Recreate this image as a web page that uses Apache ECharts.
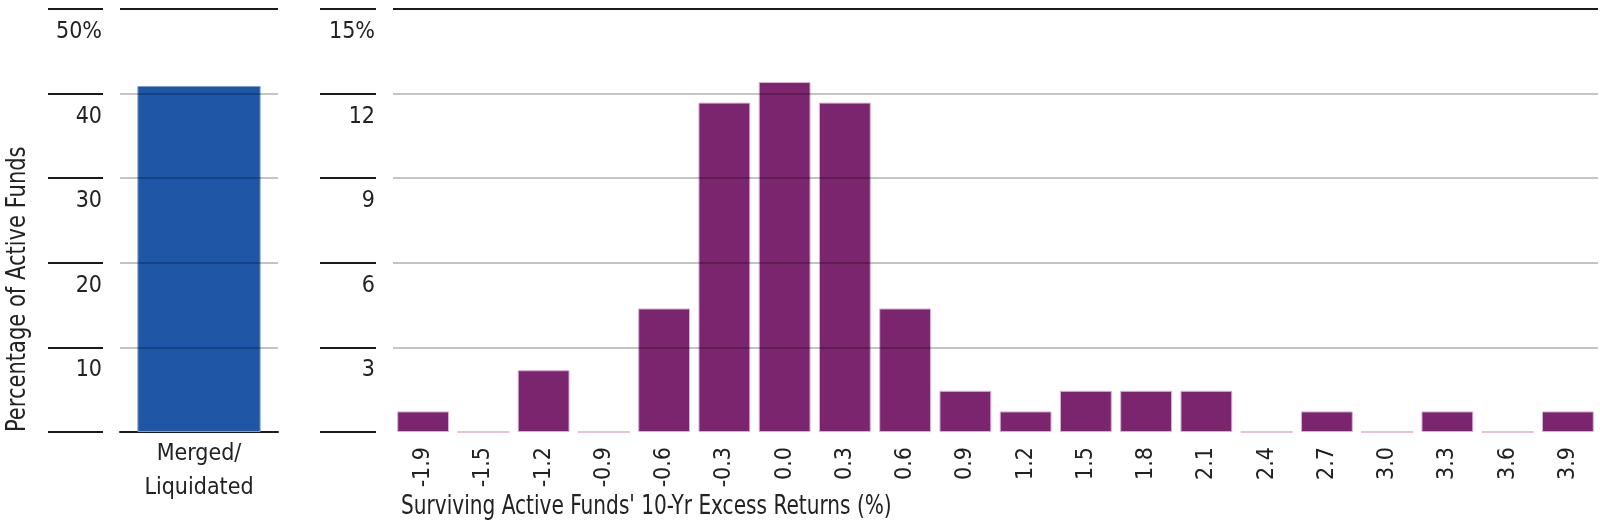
<!DOCTYPE html>
<html>
<head>
<meta charset="utf-8">
<script src="https://cdn.jsdelivr.net/npm/echarts@6/dist/echarts.min.js"></script>
<style>
html,body{margin:0;padding:0;background:#fff;}
#c{width:1600px;height:524px;}
</style>
</head>
<body>
<div id="c"></div>
<script>
var mergedCategories = ['Merged/\nLiquidated'];
var mergedValues = [40.9];
var leftTickLabels = ['', '10', '20', '30', '40', '50%'];

var returnCategories = ['-1.9','-1.5','-1.2','-0.9','-0.6','-0.3','0.0','0.3','0.6','0.9','1.2','1.5','1.8','2.1','2.4','2.7','3.0','3.3','3.6','3.9'];
var survivorValues = [0.73, 0, 2.19, 0, 4.38, 11.68, 12.41, 11.68, 4.38, 1.46, 0.73, 1.46, 1.46, 1.46, 0, 0.73, 0, 0.73, 0, 0.73];
var rightTickLabels = ['', '3', '6', '9', '12', '15%'];

var FONT = '"Liberation Sans Narrow", "DejaVu Sans Condensed", "Noto Sans", sans-serif';
var TXT = '#222';
var FS = 23;

var chart = echarts.init(document.getElementById('c'));

function tickAxis(gridIndex, max, interval, labels) {
  return {
    type: 'value', gridIndex: gridIndex, min: 0, max: max, interval: interval,
    position: 'right',
    axisLine: {show: false}, axisTick: {show: false},
    splitLine: {show: true, lineStyle: {color: '#1a1a1a', width: 2}},
    axisLabel: {
      inside: true, margin: 1, fontFamily: FONT, fontSize: FS, color: TXT,
      verticalAlign: 'top', lineHeight: 24, padding: [11, 0, 0, 0],
      formatter: function (v) { return labels[Math.round(v / interval)]; }
    }
  };
}
function plotAxis(gridIndex, max, interval) {
  return {
    type: 'value', gridIndex: gridIndex, min: 0, max: max, interval: interval, z: 5,
    axisLine: {show: false}, axisTick: {show: false}, axisLabel: {show: false},
    splitLine: {show: true, lineStyle: {
      color: ['rgba(0,0,0,0)', 'rgba(0,0,0,0.23)', 'rgba(0,0,0,0.23)', 'rgba(0,0,0,0.23)', 'rgba(0,0,0,0.23)', '#1a1a1a'],
      width: 2}}
  };
}

chart.setOption({
  animation: false,
  backgroundColor: '#fff',
  grid: [
    {left: 48, top: 9, width: 55, height: 423},
    {left: 120, top: 9, width: 158, height: 423},
    {left: 320, top: 9, width: 56, height: 423},
    {left: 393, top: 9, width: 1205, height: 423}
  ],
  xAxis: [
    {type: 'value', gridIndex: 0, min: 0, max: 1, show: false},
    {type: 'category', gridIndex: 1, data: mergedCategories,
      axisLine: {show: true, lineStyle: {color: '#1a1a1a', width: 2}},
      axisTick: {show: false},
      axisLabel: {fontFamily: FONT, fontSize: FS, color: TXT, lineHeight: 34, margin: 5}},
    {type: 'value', gridIndex: 2, min: 0, max: 1, show: false},
    {type: 'category', gridIndex: 3, data: returnCategories,
      axisLine: {show: false}, axisTick: {show: false},
      axisLabel: {fontFamily: FONT, fontSize: FS, color: TXT, rotate: 90, margin: 15, interval: 0}}
  ],
  yAxis: [
    tickAxis(0, 50, 10, leftTickLabels),
    plotAxis(1, 50, 10),
    tickAxis(2, 15, 3, rightTickLabels),
    plotAxis(3, 15, 3)
  ],
  series: [
    {type: 'bar', xAxisIndex: 1, yAxisIndex: 1, data: mergedValues, barWidth: '78%',
      itemStyle: {color: '#1f57a6', borderColor: '#7f9fcf', borderWidth: 1}},
    {type: 'bar', xAxisIndex: 3, yAxisIndex: 3, data: survivorValues, barCategoryGap: '14%',
      itemStyle: {color: '#7b256e', borderColor: '#d9b0d4', borderWidth: 1}}
  ],
  graphic: [
    {type: 'text', x: 18, y: 432, rotation: Math.PI / 2, scaleX: 0.9,
      style: {text: 'Percentage of Active Funds', fontFamily: FONT, fontSize: 26, fill: TXT,
        align: 'left', verticalAlign: 'middle'}},
    {type: 'text', x: 401, y: 507, scaleX: 0.86,
      style: {text: "Surviving Active Funds' 10-Yr Excess Returns (%)", fontFamily: FONT, fontSize: 26, fill: TXT,
        align: 'left', verticalAlign: 'middle'}}
  ]
});
</script>
</body>
</html>
